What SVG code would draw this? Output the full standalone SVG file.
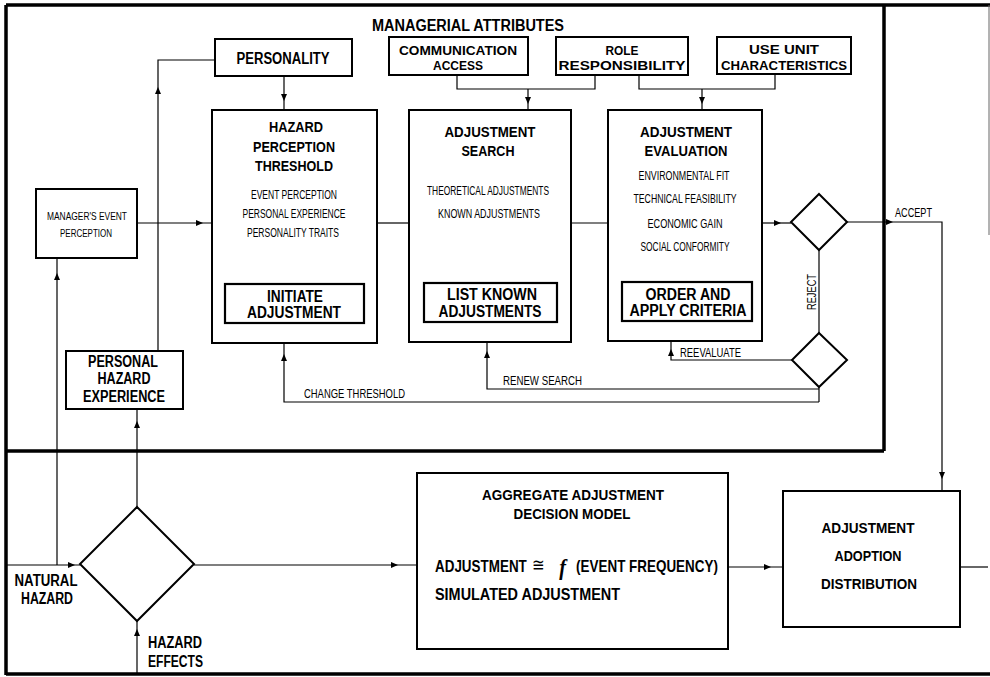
<svg xmlns="http://www.w3.org/2000/svg" width="990" height="677" viewBox="0 0 990 677">
<style>
.frame{fill:none;stroke:#000;stroke-width:3.5}
.edge{fill:none;stroke:#666;stroke-width:1}
.box{fill:#fff;stroke:#000;stroke-width:2}
.ibox{fill:none;stroke:#000;stroke-width:2.2}
.dia{fill:#fff;stroke:#000;stroke-width:2}
.con{fill:none;stroke:#000;stroke-width:1.2}
text{font-family:"Liberation Sans",Arial,sans-serif;fill:#000}
.t{font-size:16px;font-weight:bold;text-anchor:middle}
.a{font-size:13px;font-weight:bold;text-anchor:middle}
.m{font-size:15px;font-weight:bold;text-anchor:middle}
.s{font-size:12px;text-anchor:middle}
.l{font-size:13px}
</style>
<defs>
<path id="ah" d="M0,0 L-7,-3 L-7,3 Z" fill="#000"/>
</defs>
<rect width="990" height="677" fill="#fff"/>
<g id="frame">
<path class="frame" d="M6,5 H990 M6,5 V675 M6,674 H990 M884,5 V451 M6,451 H884"/>
<path class="edge" d="M989,5 V235"/>
<text x="468" y="31" class="t" textLength="192" lengthAdjust="spacingAndGlyphs">MANAGERIAL  ATTRIBUTES</text>
</g>
<g id="connectors">
<path class="con" d="M457,75 V89 H595 V75 M528,89 V110"/>
<path class="con" d="M639,75 V89 H775 V74 M702,89 V110"/>
<path class="con" d="M284,76 V110"/>
<path class="con" d="M137,223 H212"/>
<path class="con" d="M377,223 H409"/>
<path class="con" d="M571,223 H608"/>
<path class="con" d="M762,223 H791"/>
<path class="con" d="M847,222 H942 V491"/>
<path class="con" d="M819,250 V333"/>
<path class="con" d="M792,360 H671 V341"/>
<path class="con" d="M819,387 V402"/>
<path class="con" d="M819,389 H487 V342"/>
<path class="con" d="M819,402 H284 V343"/>
<path class="con" d="M158,351 V60 H215"/>
<path class="con" d="M57,565 V258"/>
<path class="con" d="M6,565 H80"/>
<path class="con" d="M137,507 V409"/>
<path class="con" d="M137,674 V621"/>
<path class="con" d="M194,565 H417"/>
<path class="con" d="M728,567 H783"/>
<path class="con" d="M960,567 H988"/>
<use href="#ah" transform="translate(57,273) rotate(-90)"/>
<use href="#ah" transform="translate(158,87) rotate(-90)"/>
<use href="#ah" transform="translate(137,421) rotate(-90)"/>
<use href="#ah" transform="translate(284,101) rotate(90)"/>
<use href="#ah" transform="translate(203,223)"/>
<use href="#ah" transform="translate(528,104) rotate(90)"/>
<use href="#ah" transform="translate(702,104) rotate(90)"/>
<use href="#ah" transform="translate(781,223)"/>
<use href="#ah" transform="translate(893,222)"/>
<use href="#ah" transform="translate(942,479) rotate(90)"/>
<use href="#ah" transform="translate(671,349) rotate(-90)"/>
<use href="#ah" transform="translate(487,351) rotate(-90)"/>
<use href="#ah" transform="translate(284,354) rotate(-90)"/>
<use href="#ah" transform="translate(75,565)"/>
<use href="#ah" transform="translate(137,629) rotate(-90)"/>
<use href="#ah" transform="translate(398,565)"/>
<use href="#ah" transform="translate(771,567)"/>
<text x="304" y="398" class="l" textLength="101" lengthAdjust="spacingAndGlyphs">CHANGE THRESHOLD</text>
<text x="503" y="385" class="l" textLength="79" lengthAdjust="spacingAndGlyphs">RENEW SEARCH</text>
<text x="680" y="357" class="l" textLength="61" lengthAdjust="spacingAndGlyphs">REEVALUATE</text>
<text x="895" y="217" class="l" textLength="37" lengthAdjust="spacingAndGlyphs">ACCEPT</text>
<text transform="translate(816,310) rotate(-90)" class="l" textLength="36" lengthAdjust="spacingAndGlyphs">REJECT</text>
</g>
<g id="personality">
<rect class="box" x="215" y="39" width="137" height="37"/>
<text x="283" y="64" class="t" textLength="93" lengthAdjust="spacingAndGlyphs">PERSONALITY</text>
</g>
<g id="communication-access">
<rect class="box" x="389" y="37" width="139" height="38"/>
<text x="458" y="55" class="a" textLength="118" lengthAdjust="spacingAndGlyphs">COMMUNICATION</text>
<text x="458" y="70" class="a" textLength="50" lengthAdjust="spacingAndGlyphs">ACCESS</text>
</g>
<g id="role-responsibility">
<rect class="box" x="556" y="37" width="132" height="38"/>
<text x="622" y="55" class="a" textLength="33" lengthAdjust="spacingAndGlyphs">ROLE</text>
<text x="622" y="70" class="a" textLength="127" lengthAdjust="spacingAndGlyphs">RESPONSIBILITY</text>
</g>
<g id="use-unit">
<rect class="box" x="717" y="37" width="134" height="37"/>
<text x="784" y="54" class="a" textLength="70" lengthAdjust="spacingAndGlyphs">USE  UNIT</text>
<text x="784" y="70" class="a" textLength="126" lengthAdjust="spacingAndGlyphs">CHARACTERISTICS</text>
</g>
<g id="hazard-perception-threshold">
<rect class="box" x="212" y="110" width="165" height="233"/>
<text x="296" y="132" class="m" textLength="54" lengthAdjust="spacingAndGlyphs">HAZARD</text>
<text x="294" y="152" class="m" textLength="82" lengthAdjust="spacingAndGlyphs">PERCEPTION</text>
<text x="294" y="171" class="m" textLength="78" lengthAdjust="spacingAndGlyphs">THRESHOLD</text>
<text x="294" y="199" class="s" textLength="86" lengthAdjust="spacingAndGlyphs">EVENT  PERCEPTION</text>
<text x="294" y="218" class="s" textLength="103" lengthAdjust="spacingAndGlyphs">PERSONAL  EXPERIENCE</text>
<text x="293" y="237" class="s" textLength="92" lengthAdjust="spacingAndGlyphs">PERSONALITY  TRAITS</text>
<rect class="ibox" x="225" y="284" width="139" height="39"/>
<text x="295" y="302" class="t" textLength="56" lengthAdjust="spacingAndGlyphs">INITIATE</text>
<text x="294" y="318" class="t" textLength="94" lengthAdjust="spacingAndGlyphs">ADJUSTMENT</text>
</g>
<g id="adjustment-search">
<rect class="box" x="409" y="110" width="162" height="232"/>
<text x="490" y="137" class="m" textLength="91" lengthAdjust="spacingAndGlyphs">ADJUSTMENT</text>
<text x="488" y="156" class="m" textLength="53" lengthAdjust="spacingAndGlyphs">SEARCH</text>
<text x="488" y="195" class="s" textLength="122" lengthAdjust="spacingAndGlyphs">THEORETICAL  ADJUSTMENTS</text>
<text x="489" y="218" class="s" textLength="102" lengthAdjust="spacingAndGlyphs">KNOWN  ADJUSTMENTS</text>
<rect class="ibox" x="424" y="283" width="133" height="39"/>
<text x="492" y="300" class="t" textLength="90" lengthAdjust="spacingAndGlyphs">LIST  KNOWN</text>
<text x="490" y="317" class="t" textLength="103" lengthAdjust="spacingAndGlyphs">ADJUSTMENTS</text>
</g>
<g id="adjustment-evaluation">
<rect class="box" x="608" y="110" width="154" height="231"/>
<text x="686" y="137" class="m" textLength="92" lengthAdjust="spacingAndGlyphs">ADJUSTMENT</text>
<text x="686" y="156" class="m" textLength="83" lengthAdjust="spacingAndGlyphs">EVALUATION</text>
<text x="684" y="180" class="s" textLength="91" lengthAdjust="spacingAndGlyphs">ENVIRONMENTAL  FIT</text>
<text x="685" y="203" class="s" textLength="103" lengthAdjust="spacingAndGlyphs">TECHNICAL  FEASIBILITY</text>
<text x="685" y="228" class="s" textLength="75" lengthAdjust="spacingAndGlyphs">ECONOMIC   GAIN</text>
<text x="685" y="251" class="s" textLength="89" lengthAdjust="spacingAndGlyphs">SOCIAL  CONFORMITY</text>
<rect class="ibox" x="622" y="282" width="130" height="39"/>
<text x="688" y="300" class="t" textLength="85" lengthAdjust="spacingAndGlyphs">ORDER  AND</text>
<text x="688" y="316" class="t" textLength="117" lengthAdjust="spacingAndGlyphs">APPLY  CRITERIA</text>
</g>
<g id="decision-accept">
<polygon class="dia" points="819,194 847,222 819,250 791,222"/>
</g>
<g id="decision-reject">
<polygon class="dia" points="819,333 847,360 819,387 792,360"/>
</g>
<g id="managers-event-perception">
<rect class="box" x="36" y="189" width="101" height="69"/>
<text x="87" y="220" class="s" style="font-size:11px" textLength="80" lengthAdjust="spacingAndGlyphs">MANAGER'S EVENT</text>
<text x="86" y="237" class="s" style="font-size:11px" textLength="52" lengthAdjust="spacingAndGlyphs">PERCEPTION</text>
</g>
<g id="personal-hazard-experience">
<rect class="box" x="66" y="351" width="117" height="58"/>
<text x="123" y="367" class="t" textLength="70" lengthAdjust="spacingAndGlyphs">PERSONAL</text>
<text x="124" y="384" class="t" textLength="53" lengthAdjust="spacingAndGlyphs">HAZARD</text>
<text x="124" y="402" class="t" textLength="82" lengthAdjust="spacingAndGlyphs">EXPERIENCE</text>
</g>
<g id="natural-hazard">
<polygon class="dia" points="137,507 194,564 137,621 80,564"/>
<text x="46" y="586" class="t" textLength="63" lengthAdjust="spacingAndGlyphs">NATURAL</text>
<text x="47" y="604" class="t" textLength="52" lengthAdjust="spacingAndGlyphs">HAZARD</text>
<text x="148" y="648" class="t" style="text-anchor:start" textLength="54" lengthAdjust="spacingAndGlyphs">HAZARD</text>
<text x="148" y="667" class="t" style="text-anchor:start" textLength="55" lengthAdjust="spacingAndGlyphs">EFFECTS</text>
</g>
<g id="aggregate-model">
<rect class="box" x="417" y="473" width="311" height="176"/>
<text x="573" y="500" class="m" textLength="182" lengthAdjust="spacingAndGlyphs">AGGREGATE  ADJUSTMENT</text>
<text x="572" y="519" class="m" textLength="117" lengthAdjust="spacingAndGlyphs">DECISION  MODEL</text>
<text transform="translate(435,572) scale(0.84,1)" style="font-size:16px;font-weight:bold"><tspan x="0">ADJUSTMENT</tspan><tspan x="115" y="-1" style="font-weight:normal;font-size:18px">≅</tspan><tspan x="148" y="3" style="font-family:'Liberation Serif',serif;font-size:24px;font-style:italic;font-weight:bold">f</tspan><tspan x="168" y="0">(EVENT FREQUENCY)</tspan></text>
<text x="435" y="600" class="t" style="text-anchor:start" textLength="185" lengthAdjust="spacingAndGlyphs">SIMULATED  ADJUSTMENT</text>
</g>
<g id="adoption-distribution">
<rect class="box" x="783" y="491" width="177" height="136"/>
<text x="868" y="533" class="m" textLength="93" lengthAdjust="spacingAndGlyphs">ADJUSTMENT</text>
<text x="868" y="561" class="m" textLength="67" lengthAdjust="spacingAndGlyphs">ADOPTION</text>
<text x="869" y="589" class="m" textLength="96" lengthAdjust="spacingAndGlyphs">DISTRIBUTION</text>
</g>
</svg>
